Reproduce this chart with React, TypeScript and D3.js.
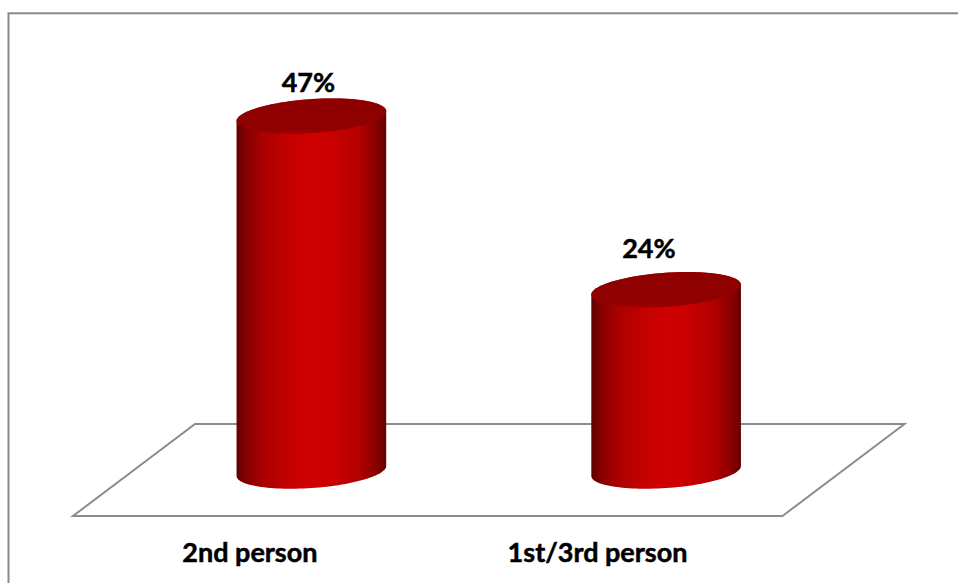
import React from "react";
import * as d3 from "d3";

// Chart data
const categories = ["2nd person", "1st/3rd person"];
const values = [47, 24];
const valueLabels = ["47%", "24%"];

const W = 958;
const H = 583;

// Floor geometry (mid-depth line, with the back edge shifted right and the front edge left)
const midLeft = 134;
const midRight = 843.5;
const depthShift = 61;
const floorBackY = 424;
const floorFrontY = 516;

// Cylinder geometry
const baseY = 471;
const rx = 75;
const ry = 17;
const tilt = (-4 * Math.PI) / 180;

const x = d3.scaleBand<string>().domain(categories).range([midLeft, midRight]);
const xFront = d3
  .scaleBand<string>()
  .domain(categories)
  .range([midLeft - depthShift, midRight - depthShift]);
const y = d3.scaleLinear().domain([0, 50]).range([baseY, 93.5]);
// Value labels sit on a slightly receding plane
const labelY = d3.scaleLinear().domain([0, 50]).range([431.8, 70.3]);
const labelShrink = 0.96;
const labelVanishX = 236;
// Category labels are pulled slightly toward the left as well
const catShrink = 0.98;
const catVanishX = 225;

function ellipsePoint(cx: number, cy: number, t: number): [number, number] {
  const c = Math.cos(t);
  const s = Math.sin(t);
  return [
    cx + rx * c * Math.cos(tilt) - ry * s * Math.sin(tilt),
    cy + rx * c * Math.sin(tilt) + ry * s * Math.cos(tilt),
  ];
}

// parameter where the ellipse tangent is vertical (right side)
const tRight = Math.atan2(-ry * Math.sin(tilt), rx * Math.cos(tilt));
const tLeft = tRight + Math.PI;

function arc(cx: number, cy: number, t0: number, t1: number, n = 60): [number, number][] {
  return d3.range(n + 1).map((i) => ellipsePoint(cx, cy, t0 + ((t1 - t0) * i) / n));
}

// Silhouette of the cylinder: front half of the base ellipse, back half of the top ellipse
function bodyPath(cx: number, topY: number): string {
  const frontA = arc(cx, baseY, tLeft, tLeft - Math.PI);
  const frontB = arc(cx, baseY, tLeft, tLeft + Math.PI);
  const front = frontA[30][1] > frontB[30][1] ? frontA : frontB;
  const backA = arc(cx, topY, tRight, tRight - Math.PI);
  const backB = arc(cx, topY, tRight, tRight + Math.PI);
  const back = backA[30][1] < backB[30][1] ? backA : backB;
  return (d3.line()([...front, ...back]) as string) + "Z";
}

function topPath(cx: number, topY: number): string {
  const pts = arc(cx, topY, 0, 2 * Math.PI, 120);
  return (d3.line()(pts) as string) + "Z";
}

export default function App() {
  const floorPts: [number, number][] = [
    [midLeft + depthShift, floorBackY],
    [midRight + depthShift, floorBackY],
    [midRight - depthShift, floorFrontY],
    [midLeft - depthShift, floorFrontY],
  ];
  const bw = x.bandwidth();
  const font = "Lato, 'Open Sans', 'DejaVu Sans', sans-serif";
  const textStyle = {
    fontFamily: font,
    fontWeight: 700,
    fontSize: 27,
    fill: "#000",
    stroke: "#000",
    strokeWidth: 0.5,
  } as const;

  return (
    <svg
      width={W}
      height={H}
      style={{ position: "absolute", left: 0, top: 0, background: "#fff" }}
    >
      <defs>
        <linearGradient id="cylSide" x1="0" x2="1" y1="0" y2="0">
          <stop offset="0" stopColor="#5e0000" />
          <stop offset="0.06" stopColor="#840000" />
          <stop offset="0.18" stopColor="#ab0000" />
          <stop offset="0.35" stopColor="#c40000" />
          <stop offset="0.5" stopColor="#d00000" />
          <stop offset="0.65" stopColor="#c90000" />
          <stop offset="0.82" stopColor="#b20000" />
          <stop offset="0.93" stopColor="#8c0000" />
          <stop offset="1" stopColor="#640000" />
        </linearGradient>
        <linearGradient id="cylTop" x1="0" x2="0" y1="0" y2="1">
          <stop offset="0" stopColor="#8e0000" />
          <stop offset="0.85" stopColor="#900000" />
          <stop offset="1" stopColor="#a00000" />
        </linearGradient>
      </defs>

      {/* outer frame */}
      <rect
        x={8.5}
        y={13.3}
        width={W + 20}
        height={H + 20}
        fill="none"
        stroke="#8a8a8a"
        strokeWidth={2}
      />

      {/* floor */}
      <polygon
        points={floorPts.map((p) => p.join(",")).join(" ")}
        fill="#fff"
        stroke="#8c8c8c"
        strokeWidth={2}
      />

      {/* cylinders */}
      {categories.map((c, i) => {
        const cx = (x(c) as number) + bw / 2;
        const topY = y(values[i]);
        return (
          <g key={c}>
            <path d={bodyPath(cx, topY)} fill="url(#cylSide)" />
            <path d={topPath(cx, topY)} fill="url(#cylTop)" />
          </g>
        );
      })}

      {/* value labels */}
      {categories.map((c, i) => {
        const cx = (x(c) as number) + bw / 2;
        const lx = labelVanishX + labelShrink * (cx - labelVanishX);
        return (
          <text key={c} x={lx} y={labelY(values[i])} textAnchor="middle" style={textStyle}>
            {valueLabels[i]}
          </text>
        );
      })}

      {/* category labels */}
      {categories.map((c) => {
        const fc = (xFront(c) as number) + xFront.bandwidth() / 2;
        const lx = catVanishX + catShrink * (fc - catVanishX);
        return (
          <text key={c} x={lx} y={562} textAnchor="middle" style={textStyle}>
            {c}
          </text>
        );
      })}
    </svg>
  );
}
